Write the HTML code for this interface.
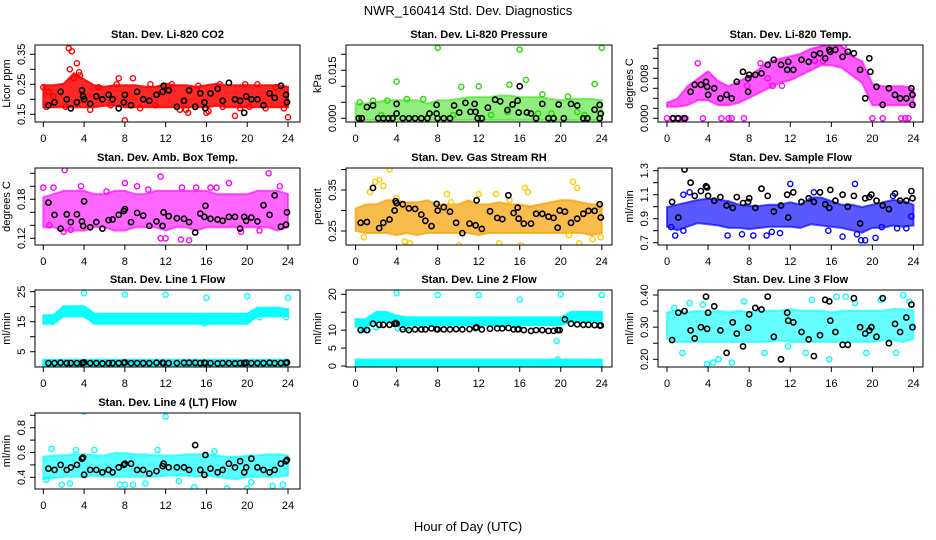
<!DOCTYPE html>
<html><head><meta charset="utf-8"><title>NWR_160414 Std. Dev. Diagnostics</title>
<style>
html,body{margin:0;padding:0;background:#fff;}
svg{display:block;font-family:"Liberation Sans",sans-serif;}
</style></head>
<body>
<svg id="chart" width="936" height="540" viewBox="0 0 936 540" xmlns="http://www.w3.org/2000/svg">
<rect x="0" y="0" width="936" height="540" fill="#fff"/>
<text x="468" y="15" text-anchor="middle" font-size="13">NWR_160414 Std. Dev. Diagnostics</text>
<text x="468" y="531" text-anchor="middle" font-size="13">Hour of Day (UTC)</text>
</svg>
<script>
// ---- shared data ----
const bandHours = [0,1,2,3,4,5,6,7,8,9,10,11,12,13,14,15,16,17,18,19,20,21,22,23,24];
const xTicks = [0,4,8,12,16,20,24];
const blkHours = [0.5,1.1,1.7,2.3,2.7,3.3,3.8,3.9,4.0,4.6,5.2,5.8,6.4,6.8,7.4,7.9,8.0,8.6,9.2,9.8,10.4,11.1,11.7,11.8,12.3,13.1,13.8,14.3,14.9,15.4,15.8,15.9,16.4,17.1,17.6,18.2,18.8,19.3,19.7,19.9,20.4,21.0,21.6,22.2,22.7,23.3,23.8,23.9];

// P1 CO2
const co2Lo = [0.18,0.18,0.18,0.18,0.18,0.18,0.185,0.185,0.18,0.18,0.18,0.18,0.18,0.18,0.18,0.18,0.18,0.185,0.18,0.18,0.18,0.18,0.18,0.18,0.18];
const co2Hi = [0.24,0.24,0.245,0.28,0.26,0.24,0.235,0.24,0.24,0.24,0.235,0.235,0.245,0.24,0.24,0.235,0.24,0.245,0.24,0.24,0.24,0.24,0.24,0.24,0.235];
const co2PtX = [0,0.3,1,2.5,2.8,3.3,2.6,3.5,3.6,3.0,8,24,4.6,8.8,7.4,7.2,16,16.2,18.8,19.8,21,12.6,2.2,5.4,10.5,13.4,14.2,15.2,17.3,17.6,19.3,21.8,22.8,23.6,6.6,9.5,11,14,20.2,0.5];
const co2PtY = [0.24,0.175,0.21,0.37,0.36,0.32,0.30,0.29,0.28,0.27,0.13,0.14,0.165,0.27,0.27,0.25,0.155,0.16,0.145,0.25,0.25,0.25,0.175,0.24,0.25,0.165,0.155,0.245,0.25,0.175,0.17,0.17,0.24,0.17,0.18,0.17,0.18,0.165,0.175,0.225];
const co2BkY = [0.18,0.19,0.225,0.2,0.17,0.19,0.23,0.21,0.2,0.185,0.21,0.2,0.215,0.2,0.17,0.19,0.215,0.18,0.225,0.2,0.195,0.215,0.225,0.245,0.23,0.175,0.195,0.23,0.175,0.22,0.19,0.17,0.22,0.235,0.195,0.255,0.2,0.195,0.155,0.21,0.2,0.2,0.18,0.22,0.205,0.245,0.215,0.19];
const co2Ticks = [0.15,0.20,0.25,0.30,0.35];
const co2Labels = ["0.15","","0.25","","0.35"];

// P2 Pressure
const pLo = [0,0,0,0,0,0,0,0,0,0,0,0,0,0,0,0,0,0,0,0,0,0,0,0,0];
const pHi = [0.004,0.004,0.0045,0.005,0.005,0.005,0.005,0.004,0.005,0.005,0.0055,0.006,0.006,0.006,0.0065,0.0065,0.006,0.006,0.006,0.0055,0.005,0.0055,0.0055,0.0055,0.005];
const pPtX = [8,16,24,4,16.6,23.3,10.3,12,15,0.4,1.7,3.1,5,6.6,13.2,14.8,18.2,20.7,21.6,2.5,9.5,17.8,19.1,22.3];
const pPtY = [0.022,0.0215,0.022,0.0115,0.012,0.0107,0.0098,0.01,0.0105,0.005,0.0055,0.0055,0.006,0.006,0.001,0.002,0.0075,0.0068,0.002,0.001,0.001,0.0015,0.0015,0.001];
const pBkX = [0.3,0.6,1.1,1.7,2.2,2.7,3.2,3.6,4.0,4.0,4.6,5.2,5.8,6.4,7.0,7.2,7.9,7.9,8.0,8.6,9.2,9.6,10.1,10.7,11.2,11.6,11.7,11.9,12.3,12.9,13.6,14.1,14.8,15.3,15.8,15.9,16.0,16.7,17.1,17.6,18.2,18.8,19.3,19.8,20.3,21.0,21.6,22.2,22.6,23.3,23.8,23.9,23.8];
const pBkY = [0,0,0.0035,0.004,0,0,0,0,0.0045,0.0015,0,0,0,0,0,0.0015,0.0042,0.0015,0,0,0,0.004,0.0018,0.0048,0.002,0.0045,0.002,0,0,0.0033,0.0058,0.0053,0.0026,0.0043,0.0055,0.0018,0.01,0.0018,0.0015,0,0.0045,0,0,0.0043,0,0.0045,0.004,0,0,0.0027,0.0042,0.0015,0];
const pTicks = [0,0.005,0.010,0.015,0.020];
const pLabels = ["0.000","","","0.015",""];

// P3 Li-820 Temp
const tLo = [0.0027,0.0027,0.003,0.004,0.004,0.003,0.003,0.0035,0.0045,0.0055,0.0065,0.0075,0.008,0.009,0.010,0.011,0.011,0.0105,0.009,0.0075,0.003,0.003,0.003,0.003,0.003];
const tHi = [0.0027,0.0035,0.006,0.0075,0.009,0.007,0.006,0.007,0.008,0.0095,0.011,0.0115,0.012,0.0125,0.0135,0.014,0.0145,0.014,0.012,0.011,0.0065,0.006,0.006,0.006,0.0055];
const tPtX = [0,0.5,1,1.5,1.8,3.5,5.3,6,6.3,7.5,20,21,22.8,23.2,23.5,3.0,9.1,9.8,11.2,15.2,17.2,14.4,10.3,7.8];
const tPtY = [0,0,0,0,0,0,0,0,0,0,0,0,0,0,0,0.011,0.011,0.008,0.0065,0.0115,0.0145,0.0115,0.0065,0.0065];
const tBkX = [0.6,1.1,1.7,2.3,2.7,3.3,3.8,3.9,4.0,4.6,5.2,5.8,6.3,6.8,7.4,7.9,7.9,8.0,8.6,9.2,9.8,10.4,11.1,11.7,11.8,12.3,13.1,13.8,14.3,14.9,15.4,15.8,15.9,16.4,17.1,17.6,18.2,18.8,19.3,19.7,19.8,20.4,21.0,21.6,22.2,22.7,23.3,23.8,23.9,23.9];
const tBkY = [0,0,0,0.0053,0.0067,0.0067,0.0073,0.0063,0.0047,0.006,0.004,0.0047,0.004,0.0073,0.0093,0.0053,0.008,0.0087,0.0087,0.009,0.0107,0.0117,0.0107,0.0097,0.0113,0.0097,0.0117,0.0113,0.0127,0.013,0.012,0.0137,0.0133,0.0137,0.0123,0.0133,0.013,0.0097,0.004,0.012,0.0093,0.0063,0.0027,0.006,0.0047,0.004,0.004,0.006,0.0047,0.0027];
const tTicks = [0,0.002,0.004,0.006,0.008,0.010,0.012,0.014];
const tLabels = ["0.000","","","","0.008","","",""];

// P4 Amb Box Temp
const aLo = [0.14,0.14,0.135,0.135,0.135,0.14,0.14,0.135,0.135,0.14,0.14,0.14,0.135,0.14,0.14,0.135,0.14,0.14,0.14,0.14,0.14,0.14,0.14,0.135,0.14];
const aHi = [0.18,0.185,0.19,0.19,0.19,0.185,0.185,0.19,0.19,0.185,0.185,0.19,0.19,0.19,0.19,0.19,0.19,0.185,0.185,0.185,0.185,0.19,0.19,0.19,0.185];
const aPtX = [2.1,0.0,1.0,3.7,8.0,9.2,11.5,12.0,13.6,14.3,11.5,13.5,22.1,23.2,19.4,18.2,17.0,16.4,2.0,2.7,6.2,10.3,15.0,21.2,0.6];
const aPtY = [0.225,0.198,0.198,0.2,0.205,0.2,0.215,0.12,0.198,0.117,0.12,0.118,0.22,0.2,0.13,0.205,0.198,0.198,0.13,0.133,0.192,0.195,0.198,0.132,0.14];
const aBkY = [0.175,0.156,0.135,0.157,0.145,0.157,0.146,0.139,0.177,0.137,0.145,0.135,0.148,0.149,0.156,0.162,0.165,0.145,0.159,0.155,0.139,0.146,0.139,0.160,0.154,0.151,0.150,0.145,0.129,0.158,0.153,0.170,0.150,0.149,0.147,0.153,0.153,0.135,0.153,0.147,0.152,0.146,0.171,0.156,0.186,0.138,0.141,0.160];
const aTicks = [0.12,0.14,0.16,0.18,0.20,0.22];
const aLabels = ["0.12","","","0.18","",""];

// P5 Gas Stream RH
const rLo = [0.255,0.25,0.25,0.25,0.245,0.25,0.245,0.25,0.25,0.25,0.25,0.25,0.245,0.25,0.25,0.25,0.25,0.25,0.25,0.25,0.25,0.25,0.25,0.245,0.25];
const rHi = [0.3,0.31,0.31,0.32,0.32,0.315,0.315,0.32,0.31,0.31,0.31,0.32,0.31,0.31,0.315,0.31,0.31,0.305,0.31,0.315,0.32,0.32,0.315,0.31,0.31];
const rPtX = [3.3,2.3,1.9,2.7,1.4,4.0,8.9,9.3,13.7,16.5,16.8,21.2,21.6,12.0,0.8,4.8,5.3,10.1,14.0,16.1,20.8,21.8,23.1,23.9,15.0];
const rPtY = [0.4,0.375,0.37,0.36,0.345,0.33,0.34,0.32,0.34,0.355,0.345,0.37,0.355,0.34,0.235,0.225,0.22,0.215,0.22,0.215,0.24,0.22,0.23,0.235,0.325];
const rBkY = [0.27,0.272,0.355,0.257,0.27,0.278,0.3,0.323,0.318,0.315,0.305,0.304,0.29,0.275,0.262,0.316,0.3,0.308,0.297,0.27,0.245,0.268,0.264,0.325,0.255,0.298,0.282,0.279,0.337,0.294,0.307,0.28,0.268,0.268,0.292,0.292,0.285,0.282,0.258,0.3,0.297,0.27,0.28,0.292,0.299,0.299,0.315,0.283];
const rTicks = [0.25,0.30,0.35,0.40];
const rLabels = ["0.25","","0.35",""];

// P6 Sample Flow
const sLo = [0.85,0.82,0.85,0.88,0.87,0.86,0.84,0.84,0.83,0.84,0.85,0.85,0.85,0.84,0.87,0.86,0.85,0.84,0.82,0.8,0.84,0.84,0.86,0.85,0.86];
const sHi = [0.98,1.0,1.02,1.04,1.05,1.04,1.03,1.0,0.99,0.99,1.0,1.0,1.02,1.0,1.06,1.06,1.03,1.0,1.0,0.98,1.0,1.02,1.04,1.03,1.0];
const sPtX = [1.6,12.0,18.3,0.4,0.8,2.2,5.9,7.3,8.4,9.7,11.0,10.2,15.7,17.1,18.9,19.3,18.5,22.0,23.3,1.6,14.3,20.3,20.9,22.4,23.8];
const sPtY = [1.1,1.19,1.19,0.83,0.76,1.12,0.76,0.77,0.76,0.76,0.78,0.79,0.8,0.75,0.72,0.72,0.77,1.09,0.82,0.8,1.12,0.74,0.83,0.82,0.92];
const sBkY = [1.04,0.91,1.31,1.2,1.09,1.13,1.17,1.16,1.09,1.05,1.08,1.01,0.99,1.08,1.03,1.04,1.07,0.99,1.15,1.09,0.96,1.01,1.1,0.91,1.12,1.04,1.07,1.04,1.12,1.02,0.99,1.14,1.05,1.1,1.0,1.09,0.86,1.07,1.08,1.1,1.05,1.01,0.98,1.11,1.05,1.05,1.13,1.07];
const sTicks = [0.7,0.8,0.9,1.0,1.1,1.2,1.3];
const sLabels = ["0.7","","0.9","","1.1","","1.3"];

// P7 Line 1 Flow
const l1Lo = [15,15,17.5,17.5,17.5,15,15,15,15,15,15,15,15,15,15,15,15,15,15,15,15,17.5,17.5,17.5,17.5];
const l1Hi = [16.5,16.5,19.5,19.5,19.5,17,17,17,17,17,17,17,17,17,17,17,17,17,17,17,17,19,19,19,18.5];
const l1BaseLo = [0.5,0.5,0.5,0.5,0.5,0.5,0.5,0.5,0.5,0.5,0.5,0.5,0.5,0.5,0.5,0.5,0.5,0.5,0.5,0.5,0.5,0.5,0.5,0.5,0.5];
const l1BaseHi = [1.6,1.6,1.6,1.6,1.6,1.6,1.6,1.6,1.6,1.6,1.6,1.6,1.6,1.6,1.6,1.6,1.6,1.6,1.6,1.6,1.6,1.6,1.6,1.6,1.6];
const l1PtX = [4,8,12,16,20,24,0.3,21.2,23.8,15.8,20.3,4.2];
const l1PtY = [24.5,24,24,23,23.5,23,1,16.5,16.5,14.5,16,17];
const l1BkY = [1.2,1.2,1.3,1.2,1.2,1.2,1.2,1.3,1.4,1.2,1.2,1.1,1.2,1.2,1.2,1.3,1.4,1.2,1.2,1.2,1.2,1.3,1.3,1.2,1.2,1.2,1.3,1.3,1.3,1.2,1.3,1.2,1.2,1.1,1.2,1.2,1.1,1.2,1.2,1.3,1.2,1.2,1.2,1.3,1.2,1.2,1.3,1.4];
const l1Ticks = [5,10,15,20,25];
const l1Labels = ["5","","15","","25"];

// P8 Line 2 Flow
const l2Lo = [11.5,11.5,13,13,12,12,12,12,12,12,12,12,12,12,12,12,12,12,12,12,12,13,13,13,13];
const l2Hi = [12.5,12.5,14.5,14.5,13.5,13,13,13,13,13,13,13,13,13,13,13,13,13,13,13,13,14.5,14.5,14.5,14.5];
const l2BaseLo = [0.4,0.4,0.4,0.4,0.4,0.4,0.4,0.4,0.4,0.4,0.4,0.4,0.4,0.4,0.4,0.4,0.4,0.4,0.4,0.4,0.4,0.4,0.4,0.4,0.4];
const l2BaseHi = [1.2,1.2,1.2,1.2,1.2,1.2,1.2,1.2,1.2,1.2,1.2,1.2,1.2,1.2,1.2,1.2,1.2,1.2,1.2,1.2,1.2,1.2,1.2,1.2,1.2];
const l2PtX = [4,8,12,16,20,24,19.6,19.7,0.5,4.1,2,0.8,4.5,5,1.2];
const l2PtY = [20.3,19.8,19.8,18.5,20,19.8,7,1.8,10.5,10.5,10.8,10.2,10.8,10.5,10];
const l2BkY = [10,10,11.8,11.5,11.5,11.5,11.8,12,11.8,10.2,10,10.2,10.2,10.2,10.5,10.3,10.2,10.2,10.2,10.3,10.2,10.3,10.6,10.8,10.2,10.4,10.5,10.5,10.6,10.2,10.2,10.3,10,9.8,10,10,9.8,9.8,10,10,13,11.8,11.6,11.5,11.5,11.4,11.3,11.3];
const l2Ticks = [0,5,10,15,20];
const l2Labels = ["0","5","10","","20"];

// P9 Line 3 Flow
const l3Lo = [0.27,0.26,0.26,0.26,0.26,0.26,0.26,0.26,0.26,0.26,0.26,0.265,0.26,0.26,0.26,0.26,0.26,0.26,0.26,0.26,0.26,0.265,0.265,0.26,0.27];
const l3Hi = [0.34,0.345,0.34,0.345,0.34,0.345,0.34,0.345,0.34,0.345,0.345,0.345,0.35,0.345,0.345,0.345,0.34,0.345,0.345,0.345,0.345,0.345,0.35,0.35,0.345];
const l3PtX = [1.5,3.5,4.5,7.5,9.5,11.8,13.5,15.8,19.4,22.3,23,3.9,0.7,2.2,6.3,14.1,16.5,17.4,18.3,20.8,23.6,5.0];
const l3PtY = [0.22,0.37,0.19,0.38,0.22,0.24,0.22,0.2,0.22,0.22,0.4,0.185,0.36,0.375,0.19,0.385,0.395,0.395,0.375,0.385,0.38,0.2];
const l3BkY = [0.26,0.345,0.35,0.29,0.265,0.3,0.395,0.295,0.345,0.365,0.29,0.22,0.315,0.28,0.24,0.298,0.34,0.36,0.355,0.395,0.27,0.2,0.345,0.32,0.315,0.285,0.262,0.21,0.275,0.385,0.38,0.32,0.285,0.245,0.245,0.39,0.3,0.28,0.29,0.3,0.27,0.39,0.25,0.31,0.285,0.33,0.37,0.3];
const l3Ticks = [0.20,0.25,0.30,0.35,0.40];
const l3Labels = ["0.20","","0.30","","0.40"];

// P10 Line 4 (LT) Flow
const l4Lo = [0.4,0.41,0.42,0.42,0.42,0.43,0.42,0.42,0.42,0.42,0.42,0.42,0.43,0.43,0.43,0.42,0.43,0.42,0.41,0.4,0.42,0.42,0.42,0.42,0.43];
const l4Hi = [0.55,0.56,0.56,0.57,0.57,0.56,0.56,0.58,0.58,0.57,0.57,0.56,0.56,0.56,0.57,0.57,0.57,0.56,0.55,0.55,0.56,0.56,0.57,0.57,0.56];
const l4PtX = [4,12,20,0.8,3.2,1.8,5,7.5,8,8.8,10,14.8,18,20,20.4,22.5,23.5,0.3,2.6,11.2,16.8,13.3];
const l4PtY = [0.93,0.89,0.95,0.63,0.62,0.34,0.62,0.34,0.34,0.34,0.35,0.32,0.31,0.31,0.36,0.33,0.34,0.38,0.35,0.62,0.61,0.37];
const l4BkY = [0.47,0.46,0.5,0.46,0.48,0.5,0.55,0.56,0.42,0.46,0.46,0.44,0.46,0.44,0.48,0.5,0.51,0.51,0.46,0.46,0.43,0.45,0.49,0.51,0.48,0.48,0.48,0.46,0.66,0.46,0.42,0.58,0.47,0.44,0.46,0.51,0.48,0.53,0.44,0.48,0.55,0.48,0.46,0.44,0.46,0.51,0.53,0.54];
const l4Ticks = [0.4,0.5,0.6,0.7,0.8,0.9];
const l4Labels = ["0.4","","0.6","","0.8",""];

// ---- layout ----
const NS = "http://www.w3.org/2000/svg";
const svg = document.getElementById('chart');
const cols = [{l:35,r:300,x0:43.3,x24:288},{l:346,r:612,x0:355.6,x24:601.8},{l:658,r:923,x0:667,x24:913.5}];
const rows = [{t:45,b:122},{t:168,b:245},{t:290,b:367},{t:413,b:489}];

const panels = [
 {key:'co2',title:'Stan. Dev. Li-820 CO2',ylab:'Licor ppm',c:0,r:0,v0:0.15,p0:114.3,v1:0.35,p1:54.3,col:'#ff0000',op:0.85,bands:[[co2Lo,co2Hi]],ptX:co2PtX,ptY:co2PtY,bkX:blkHours,bkY:co2BkY,ticks:co2Ticks,labels:co2Labels},
 {key:'pressure',title:'Stan. Dev. Li-820 Pressure',ylab:'kPa',c:1,r:0,v0:0,p0:118.3,v1:0.02,p1:54.3,col:'#22dd00',op:0.5,bands:[[pLo,pHi]],ptX:pPtX,ptY:pPtY,bkX:pBkX,bkY:pBkY,ticks:pTicks,labels:pLabels},
 {key:'li820-temp',title:'Stan. Dev. Li-820 Temp.',ylab:'degrees C',c:2,r:0,v0:0,p0:118.3,v1:0.014,p1:48.3,col:'#ff00ff',op:0.65,bands:[[tLo,tHi]],ptX:tPtX,ptY:tPtY,bkX:tBkX,bkY:tBkY,ticks:tTicks,labels:tLabels},
 {key:'amb-temp',title:'Stan. Dev. Amb. Box Temp.',ylab:'degrees C',c:0,r:1,v0:0.12,p0:238.3,v1:0.18,p1:199.3,col:'#ff00ff',op:0.6,bands:[[aLo,aHi]],ptX:aPtX,ptY:aPtY,bkX:blkHours,bkY:aBkY,ticks:aTicks,labels:aLabels},
 {key:'rh',title:'Stan. Dev. Gas Stream RH',ylab:'percent',c:1,r:1,v0:0.25,p0:231,v1:0.35,p1:190,col:'#f5a000',op:0.7,ptCol:'#ffcc00',bands:[[rLo,rHi]],ptX:rPtX,ptY:rPtY,bkX:blkHours,bkY:rBkY,ticks:rTicks,labels:rLabels},
 {key:'sample-flow',title:'Stan. Dev. Sample Flow',ylab:'ml/min',c:2,r:1,v0:0.7,p0:242.7,v1:1.3,p1:170.7,col:'#0000ff',op:0.65,bands:[[sLo,sHi]],ptX:sPtX,ptY:sPtY,bkX:blkHours,bkY:sBkY,ticks:sTicks,labels:sLabels},
 {key:'line1',title:'Stan. Dev. Line 1 Flow',ylab:'ml/min',c:0,r:2,v0:5,p0:351.7,v1:25,p1:291.7,col:'#00ffff',op:0.95,bands:[[l1Lo,l1Hi],[l1BaseLo,l1BaseHi]],ptX:l1PtX,ptY:l1PtY,bkX:blkHours,bkY:l1BkY,ticks:l1Ticks,labels:l1Labels},
 {key:'line2',title:'Stan. Dev. Line 2 Flow',ylab:'ml/min',c:1,r:2,v0:0,p0:366,v1:20,p1:294.3,col:'#00ffff',op:0.95,bands:[[l2Lo,l2Hi],[l2BaseLo,l2BaseHi]],ptX:l2PtX,ptY:l2PtY,bkX:blkHours,bkY:l2BkY,ticks:l2Ticks,labels:l2Labels},
 {key:'line3',title:'Stan. Dev. Line 3 Flow',ylab:'ml/min',c:2,r:2,v0:0.2,p0:359.3,v1:0.4,p1:295,col:'#00ffff',op:0.6,bands:[[l3Lo,l3Hi]],ptX:l3PtX,ptY:l3PtY,bkX:blkHours,bkY:l3BkY,ticks:l3Ticks,labels:l3Labels},
 {key:'line4',title:'Stan. Dev. Line 4 (LT) Flow',ylab:'ml/min',c:0,r:3,v0:0.4,p0:477.3,v1:0.8,p1:427.7,col:'#00ffff',op:0.65,bands:[[l4Lo,l4Hi]],ptX:l4PtX,ptY:l4PtY,bkX:blkHours,bkY:l4BkY,ticks:l4Ticks,labels:l4Labels}
];

function mk(tag, attrs, parent){
  const e = document.createElementNS(NS, tag);
  for (const k in attrs) e.setAttribute(k, attrs[k]);
  parent.appendChild(e);
  return e;
}

panels.forEach(p=>{
  const C = cols[p.c], R = rows[p.r];
  const xs = h => C.x0 + (C.x24 - C.x0) * h / 24;
  const ys = v => p.p0 + (p.p1 - p.p0) * (v - p.v0) / (p.v1 - p.v0);
  const g = mk('g', {}, svg);
  
  
  const clipId = 'clip-' + p.key;
  const cp = mk('clipPath', {id: clipId}, g);
  mk('rect', {x:C.l, y:R.t, width:C.r-C.l, height:R.b-R.t}, cp);
  const plot = mk('g', {'clip-path':'url(#'+clipId+')'}, g);
  
  

  p.bands.forEach(([lo, hi])=>{
    let pts = [];
    for (let i=0;i<bandHours.length;i++) pts.push(xs(bandHours[i]).toFixed(1)+','+(ys(hi[i])-2).toFixed(1));
    for (let i=bandHours.length-1;i>=0;i--) pts.push(xs(bandHours[i]).toFixed(1)+','+(ys(lo[i])+2).toFixed(1));
    const poly = mk('polygon', {points:pts.join(' '), fill:p.col, 'fill-opacity':p.op, stroke:p.col, 'stroke-width':2, 'stroke-opacity':p.op}, plot);
    
    
  });
  const pc = p.ptCol || p.col;
  for (let i=0;i<Math.min(p.ptX.length,p.ptY.length);i++){
    const c = mk('circle', {cx:xs(p.ptX[i]).toFixed(1), cy:ys(p.ptY[i]).toFixed(1), r:2.6, fill:'none', stroke:pc, 'stroke-width':1.4}, plot);
    
    
  }
  for (let i=0;i<Math.min(p.bkX.length,p.bkY.length);i++){
    const c = mk('circle', {cx:xs(p.bkX[i]).toFixed(1), cy:ys(p.bkY[i]).toFixed(1), r:2.6, fill:'none', stroke:'#000', 'stroke-width':1.6}, plot);
    
    
  }
  const box = mk('rect', {x:C.l, y:R.t, width:C.r-C.l, height:R.b-R.t, fill:'none', stroke:'#000', 'stroke-width':1}, g);
  
  
  const t = mk('text', {x:(C.l+C.r)/2, y:R.t-7, 'text-anchor':'middle', 'font-size':11, 'font-weight':'bold'}, g);
  t.textContent = p.title;
  
  
  const xa = mk('g', {}, g);
  
  
  mk('line', {x1:xs(xTicks[0]), x2:xs(xTicks[xTicks.length-1]), y1:R.b, y2:R.b, stroke:'#000'}, xa);
  xTicks.forEach(h=>{
    mk('line', {x1:xs(h), x2:xs(h), y1:R.b, y2:R.b+5, stroke:'#000'}, xa);
    const tl = mk('text', {x:xs(h), y:R.b+20, 'text-anchor':'middle', 'font-size':11}, xa);
    tl.textContent = String(h);
    
    
  });
  const ya = mk('g', {}, g);
  
  
  mk('line', {x1:C.l, x2:C.l, y1:ys(p.ticks[0]), y2:ys(p.ticks[p.ticks.length-1]), stroke:'#000'}, ya);
  p.ticks.forEach((v,i)=>{
    const y = ys(v);
    mk('line', {x1:C.l-5, x2:C.l, y1:y, y2:y, stroke:'#000'}, ya);
    if (p.labels[i]) {
      const tx = C.l-10;
      const tl = mk('text', {x:tx, y:y, 'text-anchor':'middle', 'font-size':11, transform:'rotate(-90 '+tx+' '+y+')'}, ya);
      tl.textContent = p.labels[i];
      
      
    }
  });
  const ym = (R.t+R.b)/2, yx = C.l-25;
  const yt = mk('text', {x:yx, y:ym, 'text-anchor':'middle', 'font-size':11, transform:'rotate(-90 '+yx+' '+ym+')'}, g);
  yt.textContent = p.ylab;
  
  
});
</script>
</body></html>
